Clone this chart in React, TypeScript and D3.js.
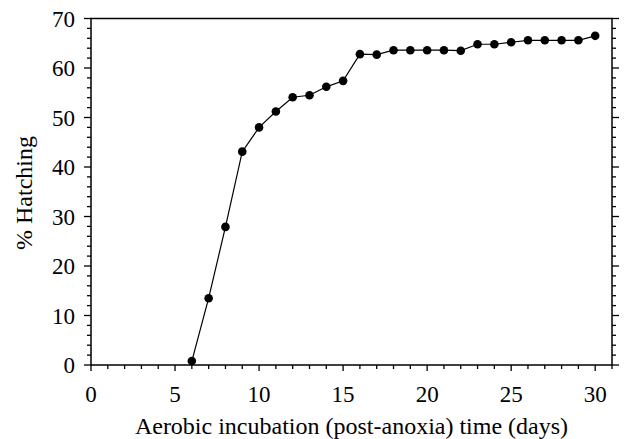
import React from "react";
import * as d3 from "d3";

const days = [6, 7, 8, 9, 10, 11, 12, 13, 14, 15, 16, 17, 18, 19, 20, 21, 22, 23, 24, 25, 26, 27, 28, 29, 30];
const hatching = [0.8, 13.5, 27.9, 43.1, 48.0, 51.2, 54.1, 54.5, 56.2, 57.4, 62.8, 62.7, 63.6, 63.6, 63.6, 63.6, 63.5, 64.8, 64.8, 65.2, 65.6, 65.6, 65.6, 65.6, 66.5];
const xTicks = [0, 5, 10, 15, 20, 25, 30];
const yTicks = [0, 10, 20, 30, 40, 50, 60, 70];
const xTitle = "Aerobic incubation (post-anoxia) time (days)";
const yTitle = "% Hatching";

const L = 91, R = 612, T = 18.5, B = 365;

export default function App() {
  const x = d3.scaleLinear().domain([0, 31]).range([L, R]);
  const y = d3.scaleLinear().domain([0, 70]).range([B, T]);
  const xMinor = d3.range(0, 32);
  const yMinor = d3.range(0, 71, 2);
  const line = d3.line<number>().x((_, i) => x(days[i])).y((d) => y(d));

  return (
    <svg width={631} height={439} style={{ display: "block", position: "absolute", left: 0, top: 0, background: "#fff", fontFamily: "'Liberation Serif', 'Times New Roman', Times, serif" }}>
      <rect x={L} y={T} width={R - L} height={B - T} fill="none" stroke="#000" strokeWidth={1.5} />
      {xMinor.map((v) => (
        <line key={"xt" + v} x1={x(v)} x2={x(v)} y1={B} y2={B + (v % 5 === 0 ? 6 : 4)} stroke="#000" strokeWidth={1.3} />
      ))}
      {yMinor.map((v) => {
        const len = v % 10 === 0 ? 7 : 4;
        return (
          <g key={"yt" + v}>
            <line x1={L - len} x2={L} y1={y(v)} y2={y(v)} stroke="#000" strokeWidth={1.3} />
            <line x1={R} x2={R + len} y1={y(v)} y2={y(v)} stroke="#000" strokeWidth={1.3} />
          </g>
        );
      })}
      {xTicks.map((v) => (
        <text key={"xl" + v} x={x(v)} y={401.5} textAnchor="middle" fontSize={23}>{v}</text>
      ))}
      {yTicks.map((v) => (
        <text key={"yl" + v} x={75} y={y(v) + 8} textAnchor="end" fontSize={23}>{v}</text>
      ))}
      <text x={(L + R) / 2} y={434} textAnchor="middle" fontSize={24}>{xTitle}</text>
      <text transform={`translate(32,193) rotate(-90)`} textAnchor="middle" fontSize={24}>{yTitle}</text>
      <path d={line(hatching) as string} fill="none" stroke="#000" strokeWidth={1.2} />
      {hatching.map((d, i) => (
        <circle key={"p" + i} cx={x(days[i])} cy={y(d)} r={4.3} fill="#000" />
      ))}
    </svg>
  );
}
